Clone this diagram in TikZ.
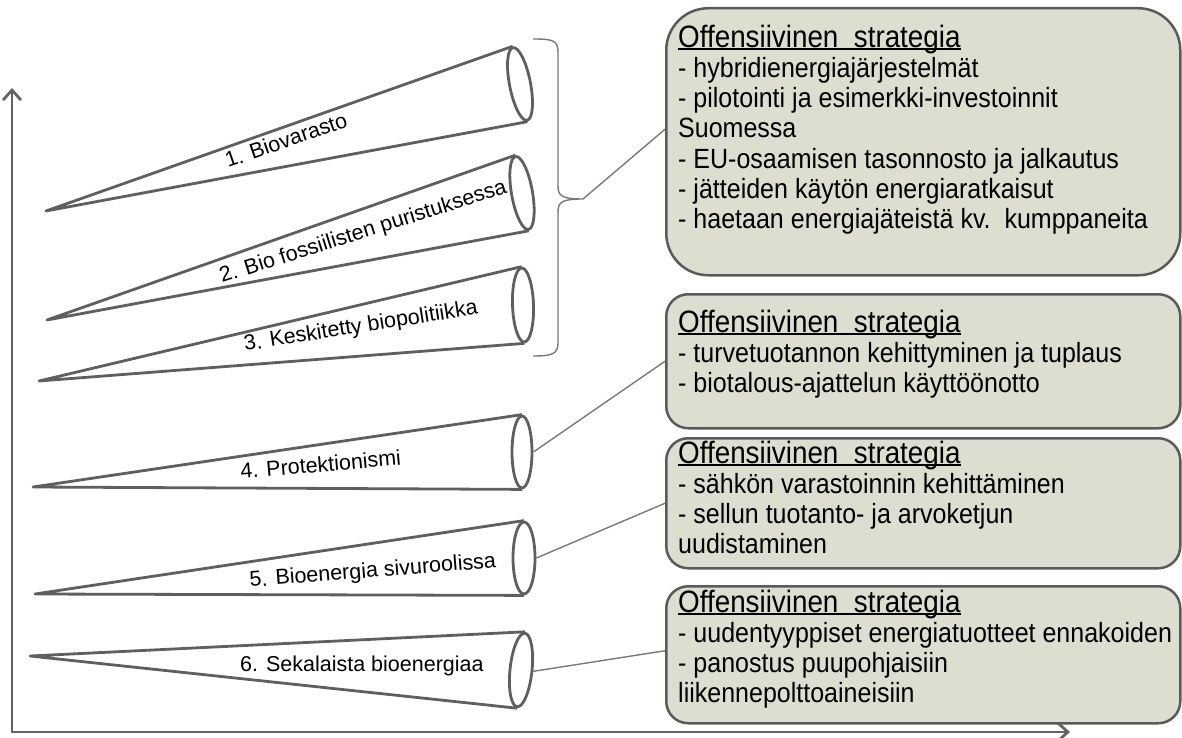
\documentclass[tikz,border=0pt]{standalone}
\usepackage{fontspec}
\setmainfont{Liberation Sans}
\newfontfamily\boxfont[FakeStretch=0.9]{Liberation Sans}
\usetikzlibrary{arrows.meta,shapes.geometric}
\definecolor{conegray}{RGB}{95,95,95}
\definecolor{axisgray}{RGB}{100,100,100}
\definecolor{linkgray}{RGB}{120,120,120}
\definecolor{boxborder}{RGB}{90,90,90}
\definecolor{boxfill}{RGB}{221,221,208}
% underlined heading of each strategy box
\newcommand\strathead{{\boxfont\fontsize{30.9}{30.3}\selectfont
  \setbox0\hbox{Offensiivinen\ \ strategia}%
  \rlap{\rule[-2.6pt]{\wd0}{1.3pt}}\box0}}
\begin{document}
\begin{tikzpicture}[x=1pt,y=-1pt,
  cone/.style={draw=conegray, line width=2.8pt, line join=round},
  coneend/.style={ellipse, draw=conegray, line width=2.8pt, inner sep=0pt},
  conelabel/.style={font=\fontsize{21.5}{24}\selectfont, inner sep=0pt, anchor=base west},
  axis/.style={draw=axisgray, line width=2.8pt,
    {Straight Barb[length=10pt,width=18pt]}-{Straight Barb[length=10pt,width=18pt]}},
  link/.style={draw=linkgray, line width=1.4pt},
  stratbox/.style={rectangle, draw=boxborder, fill=boxfill, line width=2.5pt,
    anchor=north west, minimum width=514pt, inner sep=0pt},
  strattext/.style={align=left, anchor=north west, inner sep=0pt,
    font=\boxfont\fontsize{27.8}{30.3}\selectfont}]
\useasboundingbox (0,0) rectangle (1182,738);

% axes
\coordinate (ytip) at (12,88);
\coordinate (origin) at (12,732);
\coordinate (xtip) at (1070,732);
\draw[axis] (ytip) -- (origin) -- (xtip);

% cone apexes
\coordinate (a1) at (46,211);
\coordinate (a2) at (47,320);
\coordinate (a3) at (39,381);
\coordinate (a4) at (33,487);
\coordinate (a5) at (35,594);
\coordinate (a6) at (30,656);

% cone openings
\node[coneend, minimum width=21pt, minimum height=74pt, rotate=11] (e1) at (520,84) {};
\node[coneend, minimum width=21pt, minimum height=74pt, rotate=10] (e2) at (522,193) {};
\node[coneend, minimum width=21pt, minimum height=74pt, rotate=2] (e3) at (523,305) {};
\node[coneend, minimum width=20pt, minimum height=72pt] (e4) at (522,452) {};
\node[coneend, minimum width=22pt, minimum height=72pt] (e5) at (524,558) {};
\node[coneend, minimum width=22pt, minimum height=74pt, rotate=-6] (e6) at (521,670) {};

% cone sides
\foreach \i in {1,...,6}{
  \draw[cone] (e\i.north) -- (a\i) -- (e\i.south);
}

% cone labels
\node[conelabel, rotate=19] (l1) at (228,168) {1. Biovarasto};
\node[conelabel, rotate=17.5] (l2) at (222,283) {2. Bio fossiilisten puristuksessa};
\node[conelabel, rotate=9] (l3) at (245,351) {3. Keskitetty biopolitiikka};
\node[conelabel, rotate=5] (l4) at (241,479) {4. Protektionismi};
\node[conelabel, rotate=4.5] (l5) at (250,587) {5. Bioenergia sivuroolissa};
\node[conelabel] (l6) at (240,671) {6. Sekalaista bioenergiaa};

% brace grouping scenarios 1-3
\coordinate (bt) at (583,199);
\draw[link] (533,39) .. controls (552,39) and (558,40) .. (558,52) -- (558,186)
  .. controls (558,196) and (562,199) .. (bt)
  .. controls (562,199) and (558,202) .. (558,212) -- (558,343)
  .. controls (558,354) and (552,356) .. (533,356);

% strategy boxes
\node[stratbox, minimum height=267pt, rounded corners=42pt] (b1) at (665,7) {};
\node[stratbox, minimum height=134pt, rounded corners=22pt] (b2) at (665,293) {};
\node[stratbox, minimum height=130pt, rounded corners=22pt] (b3) at (665,437) {};
\node[stratbox, minimum height=137pt, rounded corners=22pt] (b4) at (665,585) {};

\node[strattext] (t1) at (678,24.5) {\strathead\\
- hybridienergiajärjestelmät\\
- pilotointi ja esimerkki-investoinnit\\
Suomessa\\
- EU-osaamisen tasonnosto ja jalkautus\\
- jätteiden käytön energiaratkaisut\\
- haetaan energiajäteistä kv.\ \ kumppaneita};
\node[strattext] (t2) at (678,309.5) {\strathead\\
- turvetuotannon kehittyminen ja tuplaus\\
- biotalous-ajattelun käyttöönotto};
\node[strattext] (t3) at (678,440.5) {\strathead\\
- sähkön varastoinnin kehittäminen\\
- sellun tuotanto- ja arvoketjun\\
uudistaminen};
\node[strattext] (t4) at (678,589.5) {\strathead\\
- uudentyyppiset energiatuotteet ennakoiden\\
- panostus puupohjaisiin\\
liikennepolttoaineisiin};

% connectors to the boxes
\draw[link] (bt) -- ([yshift=12.5pt]b1.west);
\draw[link] (e4.east) -- (b2.west);
\draw[link] (e5.east) -- (b3.west);
\draw[link] (e6.east) -- ([yshift=4pt]b4.west);
\end{tikzpicture}
\end{document}
